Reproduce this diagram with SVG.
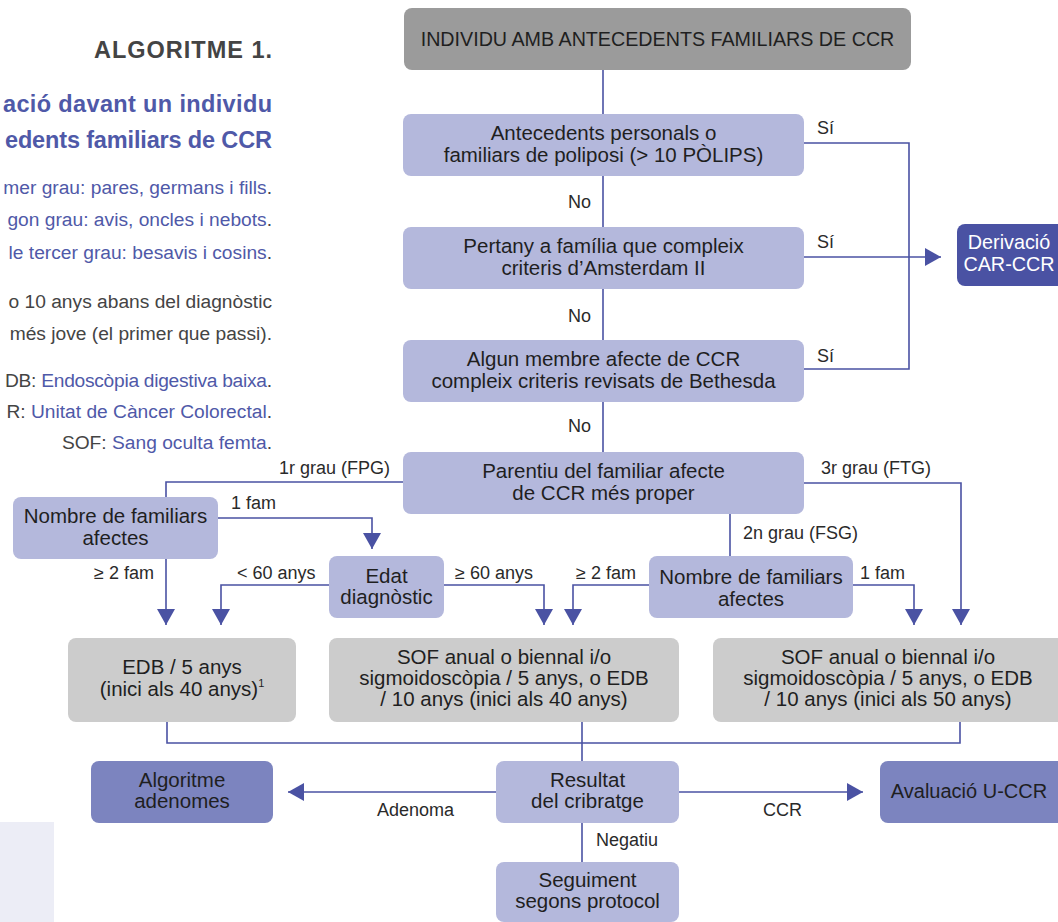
<svg xmlns="http://www.w3.org/2000/svg" width="1058" height="922" viewBox="0 0 1058 922">
<style>
.t{font-family:"Liberation Sans",Arial,sans-serif;font-size:20.5px;fill:#1f1f1f;text-anchor:middle}
.w{fill:#ffffff;font-size:19.8px}
.lbl{font-family:"Liberation Sans",Arial,sans-serif;font-size:18px;fill:#2a2a2a}
.lt{font-family:"Liberation Sans",Arial,sans-serif;text-anchor:end}
.hd{font-size:23.5px;font-weight:bold}
.sm{font-size:19.2px}
.bl{fill:#4f59a8}
.dg{fill:#444444}
.c{stroke:#4a52a3;stroke-width:1.6;fill:none}
.lav{fill:#b4b8dc}
.gry{fill:#cccccc}
.top{fill:#9b9b9b}
.dk{fill:#4a52a3}
.md{fill:#7c84bf}
</style>
<defs>
<marker id="ah" markerUnits="userSpaceOnUse" markerWidth="17" markerHeight="18" refX="16" refY="9" orient="auto">
<path d="M0,0 L16,9 L0,18 z" fill="#4a52a3"/>
</marker>
</defs>
<rect width="1058" height="922" fill="#ffffff"/>
<rect x="0" y="822" width="54" height="100" fill="#ecedf6"/>

<g id="title">
<text class="lt hd dg" x="272" y="58" textLength="178">ALGORITME 1.</text>
<text class="lt hd bl" x="272" y="112" textLength="269">ació davant un individu</text>
<text class="lt hd bl" x="272" y="148" textLength="267">edents familiars de CCR</text>
<text class="lt sm bl" x="272" y="194">mer grau: pares, germans i fills<tspan class="dg">.</tspan></text>
<text class="lt sm bl" x="272" y="226">gon grau: avis, oncles i nebots<tspan class="dg">.</tspan></text>
<text class="lt sm bl" x="272" y="259">le tercer grau: besavis i cosins<tspan class="dg">.</tspan></text>
<text class="lt sm dg" x="272" y="308">o 10 anys abans del diagnòstic</text>
<text class="lt sm dg" x="272" y="340">més jove (el primer que passi).</text>
<text class="lt sm dg" x="272" y="387" textLength="267">DB:<tspan class="bl"> Endoscòpia digestiva baixa</tspan>.</text>
<text class="lt sm dg" x="272" y="418">R:<tspan class="bl"> Unitat de Càncer Colorectal</tspan>.</text>
<text class="lt sm dg" x="272" y="449">SOF:<tspan class="bl"> Sang oculta femta</tspan>.</text>
</g>

<g id="connectors">
<path class="c" d="M603,70 V114"/>
<path class="c" d="M603,176 V227"/>
<path class="c" d="M603,289 V340"/>
<path class="c" d="M603,402 V452"/>
<path class="c" d="M804,143 H909 V369 H804"/>
<path class="c" d="M804,257 H941" marker-end="url(#ah)"/>
<path class="c" d="M403,482 H166 V497"/>
<path class="c" d="M218,518 H372 V549" marker-end="url(#ah)"/>
<path class="c" d="M166,559 V625" marker-end="url(#ah)"/>
<path class="c" d="M329,585 H221 V625" marker-end="url(#ah)"/>
<path class="c" d="M444,585 H544 V625" marker-end="url(#ah)"/>
<path class="c" d="M730,514 V556"/>
<path class="c" d="M649,585 H573 V625" marker-end="url(#ah)"/>
<path class="c" d="M853,585 H914 V625" marker-end="url(#ah)"/>
<path class="c" d="M804,483 H961 V625" marker-end="url(#ah)"/>
<path class="c" d="M167,722 V743 H960 V722"/>
<path class="c" d="M582,722 V761"/>
<path class="c" d="M496,792 H288" marker-end="url(#ah)"/>
<path class="c" d="M679,792 H863" marker-end="url(#ah)"/>
<path class="c" d="M582,823 V862"/>
</g>

<g id="labels">
<text class="lbl" x="568" y="208">No</text>
<text class="lbl" x="568" y="322">No</text>
<text class="lbl" x="568" y="432">No</text>
<text class="lbl" x="817" y="134">Sí</text>
<text class="lbl" x="817" y="248">Sí</text>
<text class="lbl" x="817" y="362">Sí</text>
<text class="lbl" x="279" y="474">1r grau (FPG)</text>
<text class="lbl" x="821" y="474">3r grau (FTG)</text>
<text class="lbl" x="231" y="509">1 fam</text>
<text class="lbl" x="743" y="539">2n grau (FSG)</text>
<text class="lbl" x="94" y="579">≥ 2 fam</text>
<text class="lbl" x="237" y="579">&lt; 60 anys</text>
<text class="lbl" x="455" y="579">≥ 60 anys</text>
<text class="lbl" x="576" y="579">≥ 2 fam</text>
<text class="lbl" x="860" y="579">1 fam</text>
<text class="lbl" x="377" y="816">Adenoma</text>
<text class="lbl" x="763" y="816">CCR</text>
<text class="lbl" x="596" y="846">Negatiu</text>
</g>

<g id="n-individu">
<rect class="top" x="404" y="8" width="507" height="62" rx="8"/>
<text class="t" x="657.5" y="46" style="font-size:19.7px">INDIVIDU AMB ANTECEDENTS FAMILIARS DE CCR</text>
</g>
<g id="n-poliposi">
<rect class="lav" x="403" y="114" width="401" height="62" rx="8"/>
<text class="t" x="603.5" y="140">Antecedents personals o</text>
<text class="t" x="603.5" y="162">familiars de poliposi (&gt; 10 PÒLIPS)</text>
</g>
<g id="n-amsterdam">
<rect class="lav" x="403" y="227" width="401" height="62" rx="8"/>
<text class="t" x="603.5" y="253">Pertany a família que compleix</text>
<text class="t" x="603.5" y="275">criteris d’Amsterdam II</text>
</g>
<g id="n-bethesda">
<rect class="lav" x="403" y="340" width="401" height="62" rx="8"/>
<text class="t" x="603.5" y="366">Algun membre afecte de CCR</text>
<text class="t" x="603.5" y="388">compleix criteris revisats de Bethesda</text>
</g>
<g id="n-parentiu">
<rect class="lav" x="403" y="452" width="401" height="62" rx="8"/>
<text class="t" x="603.5" y="478">Parentiu del familiar afecte</text>
<text class="t" x="603.5" y="500">de CCR més proper</text>
</g>
<g id="n-derivacio">
<rect class="dk" x="957" y="224" width="112" height="62" rx="8"/>
<text class="t w" x="1009" y="249">Derivació</text>
<text class="t w" x="1009" y="271">CAR-CCR</text>
</g>
<g id="n-nombre1">
<rect class="lav" x="13" y="497" width="205" height="62" rx="8"/>
<text class="t" x="115.5" y="523">Nombre de familiars</text>
<text class="t" x="115.5" y="545">afectes</text>
</g>
<g id="n-edat">
<rect class="lav" x="329" y="556" width="115" height="62" rx="8"/>
<text class="t" x="386.5" y="583">Edat</text>
<text class="t" x="386.5" y="604">diagnòstic</text>
</g>
<g id="n-nombre2">
<rect class="lav" x="649" y="556" width="204" height="62" rx="8"/>
<text class="t" x="751" y="584">Nombre de familiars</text>
<text class="t" x="751" y="606">afectes</text>
</g>
<g id="n-edb">
<rect class="gry" x="68" y="638" width="228" height="84" rx="8"/>
<text class="t" x="182" y="674">EDB / 5 anys</text>
<text class="t" x="182" y="696">(inici als 40 anys)<tspan style="font-size:11px" dy="-9">1</tspan></text>
</g>
<g id="n-sof40">
<rect class="gry" x="329" y="638" width="350" height="84" rx="8"/>
<text class="t" x="504" y="664">SOF anual o biennal i/o</text>
<text class="t" x="504" y="685">sigmoidoscòpia / 5 anys, o EDB</text>
<text class="t" x="504" y="706">/ 10 anys (inici als 40 anys)</text>
</g>
<g id="n-sof50">
<rect class="gry" x="713" y="638" width="360" height="84" rx="8"/>
<text class="t" x="888" y="664">SOF anual o biennal i/o</text>
<text class="t" x="888" y="685">sigmoidoscòpia / 5 anys, o EDB</text>
<text class="t" x="888" y="706">/ 10 anys (inici als 50 anys)</text>
</g>
<g id="n-algoritme">
<rect class="md" x="91" y="761" width="182" height="62" rx="8"/>
<text class="t" x="182" y="787">Algoritme</text>
<text class="t" x="182" y="808">adenomes</text>
</g>
<g id="n-resultat">
<rect class="lav" x="496" y="761" width="183" height="62" rx="8"/>
<text class="t" x="587.5" y="787">Resultat</text>
<text class="t" x="587.5" y="808">del cribratge</text>
</g>
<g id="n-avaluacio">
<rect class="md" x="880" y="761" width="190" height="62" rx="8"/>
<text class="t" x="969" y="798" style="font-size:20px">Avaluació U-CCR</text>
</g>
<g id="n-seguiment">
<rect class="lav" x="496" y="862" width="183" height="60" rx="8"/>
<text class="t" x="587.5" y="887">Seguiment</text>
<text class="t" x="587.5" y="908">segons protocol</text>
</g>
</svg>
